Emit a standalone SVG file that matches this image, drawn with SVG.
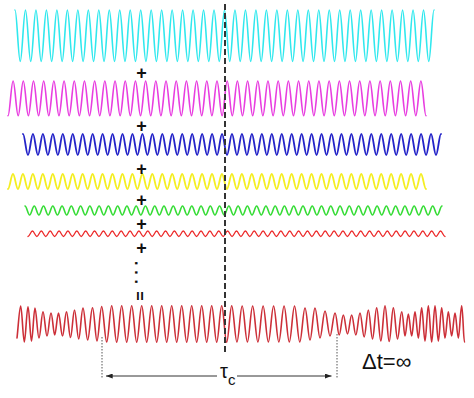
<svg xmlns="http://www.w3.org/2000/svg" width="474" height="398" viewBox="0 0 474 398">
<style>
.w{fill:none;stroke-linejoin:round;stroke-linecap:round}
.sym{font-family:"Liberation Sans",Arial,sans-serif;font-weight:bold;fill:#111;text-anchor:middle}
.lbl{font-family:"Liberation Sans",Arial,sans-serif;fill:#111}
.dot{fill:none;stroke:#555;stroke-width:1;stroke-dasharray:1.5 1.5}
.arr{fill:none;stroke:#333;stroke-width:1}
</style>
<defs>
<marker id="ah" viewBox="0 0 8 6" markerWidth="7" markerHeight="5" refX="8" refY="3" orient="auto" markerUnits="userSpaceOnUse">
<path d="M0,0L8,3L0,6z" fill="#222"/>
</marker>
</defs>
<g id="waves">
<g id="wave-cyan"><path class="w" stroke="#30e8ee" stroke-width="1.6" d="M15,10c1.906,0 3.331,51.5 5.2375,51.5
s3.331,-51.5 5.2375,-51.5s3.331,51.5 5.2375,51.5 s3.331,-51.5 5.2375,-51.5s3.331,51.5 5.2375,51.5 s3.331,-51.5 5.2375,-51.5s3.331,51.5 5.2375,51.5
s3.331,-51.5 5.2375,-51.5s3.331,51.5 5.2375,51.5 s3.331,-51.5 5.2375,-51.5s3.331,51.5 5.2375,51.5 s3.331,-51.5 5.2375,-51.5s3.331,51.5 5.2375,51.5
s3.331,-51.5 5.2375,-51.5s3.331,51.5 5.2375,51.5 s3.331,-51.5 5.2375,-51.5s3.331,51.5 5.2375,51.5 s3.331,-51.5 5.2375,-51.5s3.331,51.5 5.2375,51.5
s3.331,-51.5 5.2375,-51.5s3.331,51.5 5.2375,51.5 s3.331,-51.5 5.2375,-51.5s3.331,51.5 5.2375,51.5 s3.331,-51.5 5.2375,-51.5s3.331,51.5 5.2375,51.5
s3.331,-51.5 5.2375,-51.5s3.331,51.5 5.2375,51.5 s3.331,-51.5 5.2375,-51.5s3.331,51.5 5.2375,51.5 s3.331,-51.5 5.2375,-51.5s3.331,51.5 5.2375,51.5
s3.331,-51.5 5.2375,-51.5s3.331,51.5 5.2375,51.5 s3.331,-51.5 5.2375,-51.5s3.331,51.5 5.2375,51.5 s3.331,-51.5 5.2375,-51.5s3.331,51.5 5.2375,51.5
s3.331,-51.5 5.2375,-51.5s3.331,51.5 5.2375,51.5 s3.331,-51.5 5.2375,-51.5s3.331,51.5 5.2375,51.5 s3.331,-51.5 5.2375,-51.5s3.331,51.5 5.2375,51.5
s3.331,-51.5 5.2375,-51.5s3.331,51.5 5.2375,51.5 s3.331,-51.5 5.2375,-51.5s3.331,51.5 5.2375,51.5 s3.331,-51.5 5.2375,-51.5s3.331,51.5 5.2375,51.5
s3.331,-51.5 5.2375,-51.5s3.331,51.5 5.2375,51.5 s3.331,-51.5 5.2375,-51.5s3.331,51.5 5.2375,51.5 s3.331,-51.5 5.2375,-51.5s3.331,51.5 5.2375,51.5
s3.331,-51.5 5.2375,-51.5s3.331,51.5 5.2375,51.5 s3.331,-51.5 5.2375,-51.5s3.331,51.5 5.2375,51.5 s3.331,-51.5 5.2375,-51.5s3.331,51.5 5.2375,51.5
s3.331,-51.5 5.2375,-51.5s3.331,51.5 5.2375,51.5 s3.331,-51.5 5.2375,-51.5s3.331,51.5 5.2375,51.5 s3.331,-51.5 5.2375,-51.5s3.331,51.5 5.2375,51.5
s3.331,-51.5 5.2375,-51.5s3.331,51.5 5.2375,51.5 s3.331,-51.5 5.2375,-51.5s3.331,51.5 5.2375,51.5 s3.331,-51.5 5.2375,-51.5s3.331,51.5 5.2375,51.5
s3.331,-51.5 5.2375,-51.5s3.331,51.5 5.2375,51.5 s3.331,-51.5 5.2375,-51.5s3.331,51.5 5.2375,51.5 s3.331,-51.5 5.2375,-51.5s3.331,51.5 5.2375,51.5
s3.331,-51.5 5.2375,-51.5"/></g>
<g id="wave-magenta"><path class="w" stroke="#e83ee0" stroke-width="1.6" d="M8,115.7c1.855,0 3.242,-34.7 5.0976,-34.7
s3.242,34.7 5.0976,34.7s3.242,-34.7 5.0976,-34.7 s3.242,34.7 5.0976,34.7s3.242,-34.7 5.0976,-34.7 s3.242,34.7 5.0976,34.7s3.242,-34.7 5.0976,-34.7 s3.242,34.7 5.0976,34.7s3.242,-34.7 5.0976,-34.7
s3.242,34.7 5.0976,34.7s3.242,-34.7 5.0976,-34.7 s3.242,34.7 5.0976,34.7s3.242,-34.7 5.0976,-34.7 s3.242,34.7 5.0976,34.7s3.242,-34.7 5.0976,-34.7 s3.242,34.7 5.0976,34.7s3.242,-34.7 5.0976,-34.7
s3.242,34.7 5.0976,34.7s3.242,-34.7 5.0976,-34.7 s3.242,34.7 5.0976,34.7s3.242,-34.7 5.0976,-34.7 s3.242,34.7 5.0976,34.7s3.242,-34.7 5.0976,-34.7 s3.242,34.7 5.0976,34.7s3.242,-34.7 5.0976,-34.7
s3.242,34.7 5.0976,34.7s3.242,-34.7 5.0976,-34.7 s3.242,34.7 5.0976,34.7s3.242,-34.7 5.0976,-34.7 s3.242,34.7 5.0976,34.7s3.242,-34.7 5.0976,-34.7 s3.242,34.7 5.0976,34.7s3.242,-34.7 5.0976,-34.7
s3.242,34.7 5.0976,34.7s3.242,-34.7 5.0976,-34.7 s3.242,34.7 5.0976,34.7s3.242,-34.7 5.0976,-34.7 s3.242,34.7 5.0976,34.7s3.242,-34.7 5.0976,-34.7 s3.242,34.7 5.0976,34.7s3.242,-34.7 5.0976,-34.7
s3.242,34.7 5.0976,34.7s3.242,-34.7 5.0976,-34.7 s3.242,34.7 5.0976,34.7s3.242,-34.7 5.0976,-34.7 s3.242,34.7 5.0976,34.7s3.242,-34.7 5.0976,-34.7 s3.242,34.7 5.0976,34.7s3.242,-34.7 5.0976,-34.7
s3.242,34.7 5.0976,34.7s3.242,-34.7 5.0976,-34.7 s3.242,34.7 5.0976,34.7s3.242,-34.7 5.0976,-34.7 s3.242,34.7 5.0976,34.7s3.242,-34.7 5.0976,-34.7 s3.242,34.7 5.0976,34.7s3.242,-34.7 5.0976,-34.7
s3.242,34.7 5.0976,34.7s3.242,-34.7 5.0976,-34.7 s3.242,34.7 5.0976,34.7s3.242,-34.7 5.0976,-34.7 s3.242,34.7 5.0976,34.7s3.242,-34.7 5.0976,-34.7 s3.242,34.7 5.0976,34.7s3.242,-34.7 5.0976,-34.7
s3.242,34.7 5.0976,34.7s3.242,-34.7 5.0976,-34.7 s3.242,34.7 5.0976,34.7s3.242,-34.7 5.0976,-34.7 s3.242,34.7 5.0976,34.7s3.242,-34.7 5.0976,-34.7 s3.242,34.7 5.0976,34.7s3.242,-34.7 5.0976,-34.7
s3.242,34.7 5.0976,34.7s3.242,-34.7 5.0976,-34.7 s3.242,34.7 5.0976,34.7s3.242,-34.7 5.0976,-34.7 s3.242,34.7 5.0976,34.7s3.242,-34.7 5.0976,-34.7 s3.242,34.7 5.0976,34.7s3.242,-34.7 5.0976,-34.7
s3.242,34.7 5.0976,34.7"/></g>
<g id="wave-blue"><path class="w" stroke="#2424c8" stroke-width="1.8" d="M23,134c1.811,0 3.165,21 4.976,21
s3.165,-21 4.976,-21s3.165,21 4.976,21 s3.165,-21 4.976,-21s3.165,21 4.976,21 s3.165,-21 4.976,-21s3.165,21 4.976,21 s3.165,-21 4.976,-21s3.165,21 4.976,21
s3.165,-21 4.976,-21s3.165,21 4.976,21 s3.165,-21 4.976,-21s3.165,21 4.976,21 s3.165,-21 4.976,-21s3.165,21 4.976,21 s3.165,-21 4.976,-21s3.165,21 4.976,21
s3.165,-21 4.976,-21s3.165,21 4.976,21 s3.165,-21 4.976,-21s3.165,21 4.976,21 s3.165,-21 4.976,-21s3.165,21 4.976,21 s3.165,-21 4.976,-21s3.165,21 4.976,21
s3.165,-21 4.976,-21s3.165,21 4.976,21 s3.165,-21 4.976,-21s3.165,21 4.976,21 s3.165,-21 4.976,-21s3.165,21 4.976,21 s3.165,-21 4.976,-21s3.165,21 4.976,21
s3.165,-21 4.976,-21s3.165,21 4.976,21 s3.165,-21 4.976,-21s3.165,21 4.976,21 s3.165,-21 4.976,-21s3.165,21 4.976,21 s3.165,-21 4.976,-21s3.165,21 4.976,21
s3.165,-21 4.976,-21s3.165,21 4.976,21 s3.165,-21 4.976,-21s3.165,21 4.976,21 s3.165,-21 4.976,-21s3.165,21 4.976,21 s3.165,-21 4.976,-21s3.165,21 4.976,21
s3.165,-21 4.976,-21s3.165,21 4.976,21 s3.165,-21 4.976,-21s3.165,21 4.976,21 s3.165,-21 4.976,-21s3.165,21 4.976,21 s3.165,-21 4.976,-21s3.165,21 4.976,21
s3.165,-21 4.976,-21s3.165,21 4.976,21 s3.165,-21 4.976,-21s3.165,21 4.976,21 s3.165,-21 4.976,-21s3.165,21 4.976,21 s3.165,-21 4.976,-21s3.165,21 4.976,21
s3.165,-21 4.976,-21s3.165,21 4.976,21 s3.165,-21 4.976,-21s3.165,21 4.976,21 s3.165,-21 4.976,-21s3.165,21 4.976,21 s3.165,-21 4.976,-21s3.165,21 4.976,21
s3.165,-21 4.976,-21s3.165,21 4.976,21 s3.165,-21 4.976,-21s3.165,21 4.976,21 s3.165,-21 4.976,-21s3.165,21 4.976,21 s3.165,-21 4.976,-21s3.165,21 4.976,21
s3.165,-21 4.976,-21s3.165,21 4.976,21
s3.165,-21 4.976,-21"/></g>
<g id="wave-yellow"><path class="w" stroke="#f4ee22" stroke-width="1.8" d="M8,189c1.811,0 3.165,-15 4.976,-15
s3.165,15 4.976,15s3.165,-15 4.976,-15 s3.165,15 4.976,15s3.165,-15 4.976,-15 s3.165,15 4.976,15s3.165,-15 4.976,-15 s3.165,15 4.976,15s3.165,-15 4.976,-15
s3.165,15 4.976,15s3.165,-15 4.976,-15 s3.165,15 4.976,15s3.165,-15 4.976,-15 s3.165,15 4.976,15s3.165,-15 4.976,-15 s3.165,15 4.976,15s3.165,-15 4.976,-15
s3.165,15 4.976,15s3.165,-15 4.976,-15 s3.165,15 4.976,15s3.165,-15 4.976,-15 s3.165,15 4.976,15s3.165,-15 4.976,-15 s3.165,15 4.976,15s3.165,-15 4.976,-15
s3.165,15 4.976,15s3.165,-15 4.976,-15 s3.165,15 4.976,15s3.165,-15 4.976,-15 s3.165,15 4.976,15s3.165,-15 4.976,-15 s3.165,15 4.976,15s3.165,-15 4.976,-15
s3.165,15 4.976,15s3.165,-15 4.976,-15 s3.165,15 4.976,15s3.165,-15 4.976,-15 s3.165,15 4.976,15s3.165,-15 4.976,-15 s3.165,15 4.976,15s3.165,-15 4.976,-15
s3.165,15 4.976,15s3.165,-15 4.976,-15 s3.165,15 4.976,15s3.165,-15 4.976,-15 s3.165,15 4.976,15s3.165,-15 4.976,-15 s3.165,15 4.976,15s3.165,-15 4.976,-15
s3.165,15 4.976,15s3.165,-15 4.976,-15 s3.165,15 4.976,15s3.165,-15 4.976,-15 s3.165,15 4.976,15s3.165,-15 4.976,-15 s3.165,15 4.976,15s3.165,-15 4.976,-15
s3.165,15 4.976,15s3.165,-15 4.976,-15 s3.165,15 4.976,15s3.165,-15 4.976,-15 s3.165,15 4.976,15s3.165,-15 4.976,-15 s3.165,15 4.976,15s3.165,-15 4.976,-15
s3.165,15 4.976,15s3.165,-15 4.976,-15 s3.165,15 4.976,15s3.165,-15 4.976,-15 s3.165,15 4.976,15s3.165,-15 4.976,-15 s3.165,15 4.976,15s3.165,-15 4.976,-15
s3.165,15 4.976,15s3.165,-15 4.976,-15 s3.165,15 4.976,15s3.165,-15 4.976,-15 s3.165,15 4.976,15s3.165,-15 4.976,-15 s3.165,15 4.976,15s3.165,-15 4.976,-15
s3.165,15 4.976,15s3.165,-15 4.976,-15
s3.165,15 4.976,15"/></g>
<g id="wave-green"><path class="w" stroke="#36dc36" stroke-width="1.6" d="M25,206c1.687,0 2.947,9 4.633,9
s2.947,-9 4.633,-9s2.947,9 4.633,9 s2.947,-9 4.633,-9s2.947,9 4.633,9 s2.947,-9 4.633,-9s2.947,9 4.633,9 s2.947,-9 4.633,-9s2.947,9 4.633,9
s2.947,-9 4.633,-9s2.947,9 4.633,9 s2.947,-9 4.633,-9s2.947,9 4.633,9 s2.947,-9 4.633,-9s2.947,9 4.633,9 s2.947,-9 4.633,-9s2.947,9 4.633,9
s2.947,-9 4.633,-9s2.947,9 4.633,9 s2.947,-9 4.633,-9s2.947,9 4.633,9 s2.947,-9 4.633,-9s2.947,9 4.633,9 s2.947,-9 4.633,-9s2.947,9 4.633,9
s2.947,-9 4.633,-9s2.947,9 4.633,9 s2.947,-9 4.633,-9s2.947,9 4.633,9 s2.947,-9 4.633,-9s2.947,9 4.633,9 s2.947,-9 4.633,-9s2.947,9 4.633,9
s2.947,-9 4.633,-9s2.947,9 4.633,9 s2.947,-9 4.633,-9s2.947,9 4.633,9 s2.947,-9 4.633,-9s2.947,9 4.633,9 s2.947,-9 4.633,-9s2.947,9 4.633,9
s2.947,-9 4.633,-9s2.947,9 4.633,9 s2.947,-9 4.633,-9s2.947,9 4.633,9 s2.947,-9 4.633,-9s2.947,9 4.633,9 s2.947,-9 4.633,-9s2.947,9 4.633,9
s2.947,-9 4.633,-9s2.947,9 4.633,9 s2.947,-9 4.633,-9s2.947,9 4.633,9 s2.947,-9 4.633,-9s2.947,9 4.633,9 s2.947,-9 4.633,-9s2.947,9 4.633,9
s2.947,-9 4.633,-9s2.947,9 4.633,9 s2.947,-9 4.633,-9s2.947,9 4.633,9 s2.947,-9 4.633,-9s2.947,9 4.633,9 s2.947,-9 4.633,-9s2.947,9 4.633,9
s2.947,-9 4.633,-9s2.947,9 4.633,9 s2.947,-9 4.633,-9s2.947,9 4.633,9 s2.947,-9 4.633,-9s2.947,9 4.633,9 s2.947,-9 4.633,-9s2.947,9 4.633,9
s2.947,-9 4.633,-9s2.947,9 4.633,9 s2.947,-9 4.633,-9s2.947,9 4.633,9 s2.947,-9 4.633,-9s2.947,9 4.633,9 s2.947,-9 4.633,-9s2.947,9 4.633,9
s2.947,-9 4.633,-9s2.947,9 4.633,9 s2.947,-9 4.633,-9s2.947,9 4.633,9 s2.947,-9 4.633,-9s2.947,9 4.633,9 s2.947,-9 4.633,-9s2.947,9 4.633,9
s2.947,-9 4.633,-9"/></g>
<g id="wave-red"><path class="w" stroke="#ec2a2a" stroke-width="1.3" d="M28,236.5c1.615,0 2.821,-5.5 4.436,-5.5
s2.821,5.5 4.436,5.5s2.821,-5.5 4.436,-5.5 s2.821,5.5 4.436,5.5s2.821,-5.5 4.436,-5.5 s2.821,5.5 4.436,5.5s2.821,-5.5 4.436,-5.5 s2.821,5.5 4.436,5.5s2.821,-5.5 4.436,-5.5
s2.821,5.5 4.436,5.5s2.821,-5.5 4.436,-5.5 s2.821,5.5 4.436,5.5s2.821,-5.5 4.436,-5.5 s2.821,5.5 4.436,5.5s2.821,-5.5 4.436,-5.5 s2.821,5.5 4.436,5.5s2.821,-5.5 4.436,-5.5
s2.821,5.5 4.436,5.5s2.821,-5.5 4.436,-5.5 s2.821,5.5 4.436,5.5s2.821,-5.5 4.436,-5.5 s2.821,5.5 4.436,5.5s2.821,-5.5 4.436,-5.5 s2.821,5.5 4.436,5.5s2.821,-5.5 4.436,-5.5
s2.821,5.5 4.436,5.5s2.821,-5.5 4.436,-5.5 s2.821,5.5 4.436,5.5s2.821,-5.5 4.436,-5.5 s2.821,5.5 4.436,5.5s2.821,-5.5 4.436,-5.5 s2.821,5.5 4.436,5.5s2.821,-5.5 4.436,-5.5
s2.821,5.5 4.436,5.5s2.821,-5.5 4.436,-5.5 s2.821,5.5 4.436,5.5s2.821,-5.5 4.436,-5.5 s2.821,5.5 4.436,5.5s2.821,-5.5 4.436,-5.5 s2.821,5.5 4.436,5.5s2.821,-5.5 4.436,-5.5
s2.821,5.5 4.436,5.5s2.821,-5.5 4.436,-5.5 s2.821,5.5 4.436,5.5s2.821,-5.5 4.436,-5.5 s2.821,5.5 4.436,5.5s2.821,-5.5 4.436,-5.5 s2.821,5.5 4.436,5.5s2.821,-5.5 4.436,-5.5
s2.821,5.5 4.436,5.5s2.821,-5.5 4.436,-5.5 s2.821,5.5 4.436,5.5s2.821,-5.5 4.436,-5.5 s2.821,5.5 4.436,5.5s2.821,-5.5 4.436,-5.5 s2.821,5.5 4.436,5.5s2.821,-5.5 4.436,-5.5
s2.821,5.5 4.436,5.5s2.821,-5.5 4.436,-5.5 s2.821,5.5 4.436,5.5s2.821,-5.5 4.436,-5.5 s2.821,5.5 4.436,5.5s2.821,-5.5 4.436,-5.5 s2.821,5.5 4.436,5.5s2.821,-5.5 4.436,-5.5
s2.821,5.5 4.436,5.5s2.821,-5.5 4.436,-5.5 s2.821,5.5 4.436,5.5s2.821,-5.5 4.436,-5.5 s2.821,5.5 4.436,5.5s2.821,-5.5 4.436,-5.5 s2.821,5.5 4.436,5.5s2.821,-5.5 4.436,-5.5
s2.821,5.5 4.436,5.5s2.821,-5.5 4.436,-5.5 s2.821,5.5 4.436,5.5s2.821,-5.5 4.436,-5.5 s2.821,5.5 4.436,5.5s2.821,-5.5 4.436,-5.5 s2.821,5.5 4.436,5.5s2.821,-5.5 4.436,-5.5
s2.821,5.5 4.436,5.5s2.821,-5.5 4.436,-5.5 s2.821,5.5 4.436,5.5s2.821,-5.5 4.436,-5.5 s2.821,5.5 4.436,5.5s2.821,-5.5 4.436,-5.5 s2.821,5.5 4.436,5.5s2.821,-5.5 4.436,-5.5
s2.821,5.5 4.436,5.5s2.821,-5.5 4.436,-5.5 s2.821,5.5 4.436,5.5s2.821,-5.5 4.436,-5.5
s2.821,5.5 4.436,5.5"/></g>
<g id="wave-sum"><path class="w" stroke="#cc2f38" stroke-width="1.6" d="M17,338C18.2,328 19.4,306 20.7,306
S23,342 24.3,342 S26.65,306.7 28,306.7 S30.2,341 31.5,341 S33.7,308 35,308 S37.5,338 39,338 S41.5,311.7 43,311.7
S45.5,336 47,336 S49.5,313 51,313 S53.35,335 54.7,335 S57.1,313 58.5,313 S61,336 62.5,336 S65,311.7 66.5,311.7
S69,337.5 70.5,337.5 S73,310 74.5,310 S77.2,339 78.7,339 S81.4,308 83,308 S86,340 87.7,340 S90.75,307.7 92.5,307.7
S95.4,341 97,341 S100,306.5 101.7,306.5 S104.9,342 106.7,342 S109.9,305.7 111.7,305.7
s3.18,36.6 5,36.6s3.18,-36.6 5,-36.6 s3.18,36.6 5,36.6s3.18,-36.6 5,-36.6 s3.18,36.6 5,36.6s3.18,-36.6 5,-36.6 s3.18,36.6 5,36.6s3.18,-36.6 5,-36.6
s3.18,36.6 5,36.6s3.18,-36.6 5,-36.6 s3.18,36.6 5,36.6s3.18,-36.6 5,-36.6 s3.18,36.6 5,36.6s3.18,-36.6 5,-36.6 s3.18,36.6 5,36.6s3.18,-36.6 5,-36.6
s3.18,36.6 5,36.6s3.18,-36.6 5,-36.6 s3.18,36.6 5,36.6s3.18,-36.6 5,-36.6 s3.18,36.6 5,36.6s3.18,-36.6 5,-36.6 s3.18,36.6 5,36.6s3.18,-36.6 5,-36.6
s3.33,36.3 5.236,36.3s3.33,-36 5.236,-36 s3.33,36 5.236,36s3.33,-36 5.236,-36 s3.33,36 5.236,36s3.33,-36 5.236,-36 s3.33,36 5.236,36s3.33,-36 5.236,-36
s3.33,36 5.236,36s3.33,-36 5.236,-36 s3.33,36 5.236,36s3.33,-36 5.236,-36 s3.33,36 5.236,36s3.33,-34 5.236,-34
s3.18,32 5,32s3.18,-32 5,-32 s3.18,30 5,30s3.18,-27 5,-27 s3.18,25 5,25s3.18,-23 5,-23
s2.65,22 4.167,22s2.65,-20 4.167,-20 s2.65,19 4.167,19s2.65,-19 4.167,-19 s2.65,20 4.167,20s2.65,-22 4.167,-22 s2.65,24 4.167,24s2.65,-27 4.167,-27
s2.65,29 4.167,29s2.65,-31.3 4.167,-31.3 s2.65,33.3 4.167,33.3s2.65,-35.3 4.167,-35.3 s2.65,35.8 4.167,35.8s2.65,-33.8 4.167,-33.8 s2.65,31.3 4.167,31.3s2.65,-27.3 4.167,-27.3
s2.12,24.3 3.333,24.3s2.12,-22 3.333,-22 s2.12,22 3.333,22s2.12,-24.3 3.333,-24.3 s2.12,26.3 3.333,26.3s2.12,-30.3 3.333,-30.3 s2.12,33.3 3.333,33.3s2.12,-35.3 3.333,-35.3
s2.12,36.3 3.333,36.3s2.12,-36.3 3.333,-36.3 s2.12,35.3 3.333,35.3s2.12,-33.3 3.333,-33.3 s2.12,30.3 3.333,30.3s2.12,-26.3 3.333,-26.3 s2.12,24.3 3.333,24.3s2.12,-23 3.333,-23
s2.12,25 3.333,25s2.12,-32.3 3.333,-32.3 s1.8,36.3 2.8,36.3"/></g>
</g>
<g id="connectors">
<line x1="225" y1="4" x2="225" y2="355" stroke="#333" stroke-width="2" stroke-dasharray="6 3"/>
<line class="dot" x1="102" y1="337" x2="102" y2="379"/>
<line class="dot" x1="337" y1="334" x2="337" y2="379"/>
<line class="arr" x1="217" y1="376" x2="106" y2="376" marker-end="url(#ah)"/>
<line class="arr" x1="237" y1="376" x2="331.5" y2="376" marker-end="url(#ah)"/>
</g>
<g id="symbols">
<text class="sym" x="141.5" y="79.3" font-size="18">+</text>
<text class="sym" x="141.5" y="132.3" font-size="18">+</text>
<text class="sym" x="141.5" y="174.6" font-size="18">+</text>
<text class="sym" x="141.5" y="206.3" font-size="18">+</text>
<text class="sym" x="141.5" y="230.3" font-size="18">+</text>
<text class="sym" x="141.5" y="253.8" font-size="18">+</text>
<text font-family="Liberation Sans, Arial, sans-serif" font-weight="bold" font-size="16" fill="#111" letter-spacing="4.8" transform="translate(134.9,261.1) rotate(90)">...</text>
<text class="sym" x="140" y="301.6" font-size="16" transform="rotate(90 140 296)">=</text>
</g>
<g id="labels">
<text class="lbl" x="220" y="378" font-size="20">τ<tspan font-size="15" dy="7">c</tspan></text>
<text class="lbl" x="362" y="369" font-size="22">Δt=∞</text>
</g>
</svg>
